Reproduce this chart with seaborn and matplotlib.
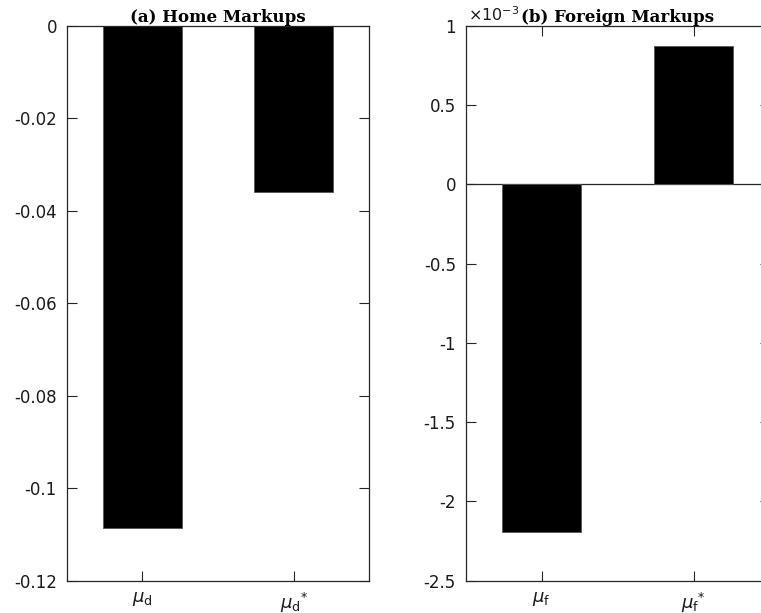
import matplotlib
matplotlib.use("Agg")
import matplotlib.pyplot as plt
import seaborn as sns
import numpy as np

# ---- data ----
home_labels = [r'$\mu_{\mathsf{d}}$', r'$\mu_{\mathsf{d}}{}^{*}$']
home_values = [-0.1087, -0.0360]
home_yticks = [-0.12, -0.10, -0.08, -0.06, -0.04, -0.02, 0.0]
home_yticklabels = ['-0.12', '-0.1', '-0.08', '-0.06', '-0.04', '-0.02', '0']

foreign_labels = [r'$\mu_{\mathsf{f}}$', r'$\mu_{\mathsf{f}}{}^{*}$']
foreign_values = [-2.194e-3, 0.874e-3]
foreign_yticks = [-2.5e-3, -2.0e-3, -1.5e-3, -1.0e-3, -0.5e-3, 0.0, 0.5e-3, 1.0e-3]
foreign_yticklabels = ['-2.5', '-2', '-1.5', '-1', '-0.5', '0', '0.5', '1']

titles = ['(a) Home Markups', '(b) Foreign Markups']

sns.set_style("white")
plt.rcParams['font.family'] = ['DejaVu Sans']
plt.rcParams['axes.unicode_minus'] = False
plt.rcParams['mathtext.fontset'] = 'dejavusans'

fig = plt.figure(figsize=(7.61, 6.13), dpi=100)
W, H = 761.0, 613.0
bottom = (H - 580.7) / H
height = (580.7 - 26.0) / H
ax1 = fig.add_axes([66.7 / W, bottom, 302.6 / W, height])
ax2 = fig.add_axes([465.7 / W, bottom, 303.8 / W, height])

spine_col = '#262626'

def style(ax, labels, yticks, yticklabels, ylim, title):
    ax.set_xlim(-0.5, 1.5)
    ax.set_ylim(*ylim)
    ax.set_xticks([0, 1])
    ax.set_xticklabels(labels, fontsize=13)
    ax.set_yticks(yticks)
    ax.set_yticklabels(yticklabels, fontsize=12)
    ax.tick_params(axis='both', direction='in', length=7, width=0.8,
                   color=spine_col, labelcolor='#1a1a1a', pad=7,
                   top=True, right=True, bottom=True, left=True)
    for s in ax.spines.values():
        s.set_visible(True)
        s.set_color(spine_col)
        s.set_linewidth(0.9)
    ax.set_xlabel('')
    ax.set_ylabel('')
    ax.set_title(title, fontfamily='DejaVu Serif', fontweight='bold',
                 fontsize=12, pad=3, color='black')

sns.barplot(x=[0, 1], y=home_values, color='black', saturation=1,
            width=0.52, edgecolor='#555555', linewidth=0.6, ax=ax1,
            order=[0, 1])
style(ax1, home_labels, home_yticks, home_yticklabels, (-0.12, 0.0), titles[0])

sns.barplot(x=[0, 1], y=foreign_values, color='black', saturation=1,
            width=0.52, edgecolor='#555555', linewidth=0.6, ax=ax2,
            order=[0, 1])
ax2.axhline(0, color=spine_col, lw=0.9, zorder=0.5)
style(ax2, foreign_labels, foreign_yticks, foreign_yticklabels,
      (-2.5e-3, 1.0e-3), titles[1])

ax2.text(0.006, 1.004, r'$\times\mathsf{10^{-3}}$', transform=ax2.transAxes,
         ha='left', va='bottom', fontsize=11.5, color='#1a1a1a')

fig.savefig('out.png', dpi=100)
